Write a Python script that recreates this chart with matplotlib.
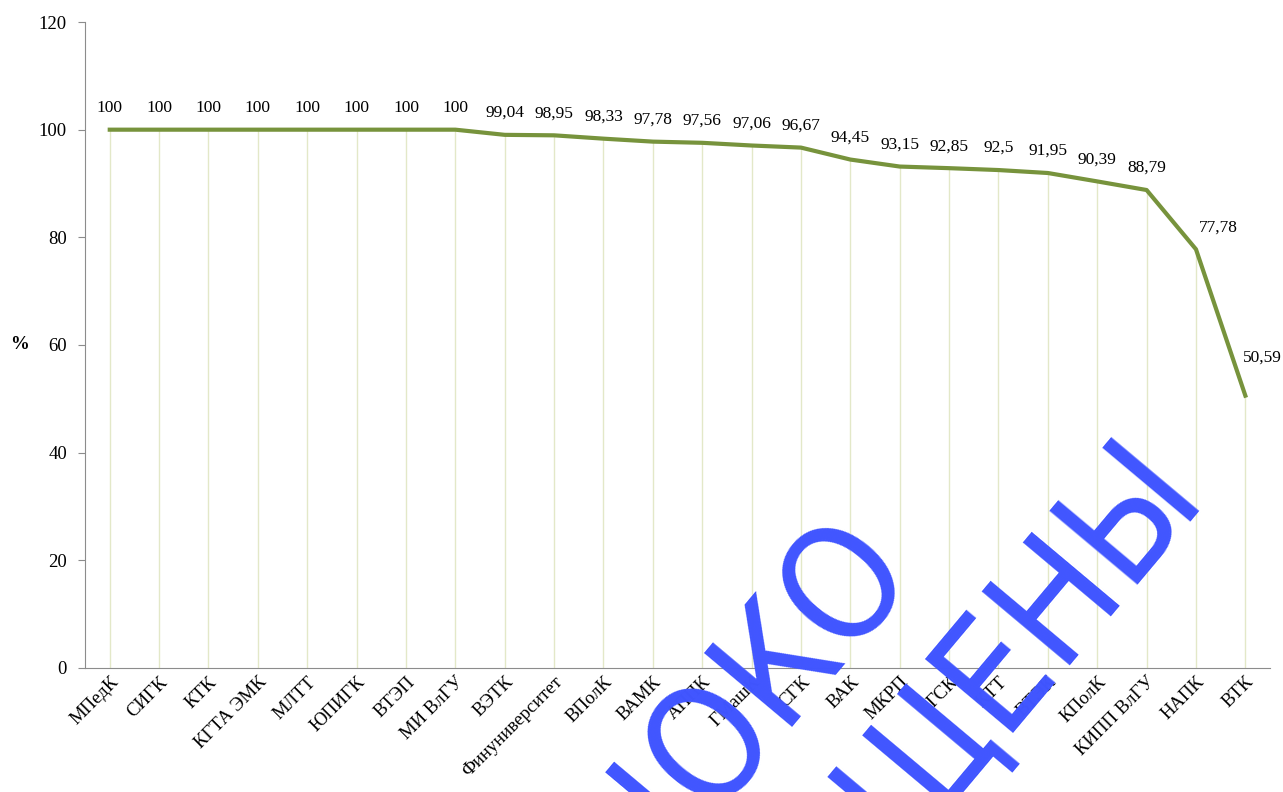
import matplotlib
matplotlib.use("Agg")
import matplotlib.pyplot as plt

# colleges and share (%)
colleges = [
    "МПедК", "СИГК", "КТК", "КГТА ЭМК", "МЛТТ", "ЮПИГК", "ВТЭП", "МИ ВлГУ",
    "ВЭТК", "Финуниверситет", "ВПолК", "ВАМК", "АППК", "ГМашК", "СГК", "ВАК",
    "МКРП", "ГСК", "КТТ", "ВТЭК", "КПолК", "КИПП ВлГУ", "НАПК", "ВТК",
]
values = [
    100, 100, 100, 100, 100, 100, 100, 100,
    99.04, 98.95, 98.33, 97.78, 97.56, 97.06, 96.67, 94.45,
    93.15, 92.85, 92.5, 91.95, 90.39, 88.79, 77.78, 50.59,
]
value_labels = [
    "100", "100", "100", "100", "100", "100", "100", "100",
    "99,04", "98,95", "98,33", "97,78", "97,56", "97,06", "96,67", "94,45",
    "93,15", "92,85", "92,5", "91,95", "90,39", "88,79", "77,78", "50,59",
]

plt.rcParams["font.family"] = ["Liberation Serif", "DejaVu Serif"]

fig = plt.figure(figsize=(12.83, 7.92), dpi=100)
ax = fig.add_axes([0.0663, 0.1566, 0.9236, 0.8156])

x = list(range(len(colleges)))

# drop lines from each point down to the axis
ax.vlines(x, 0, values, color="#e3e8c8", lw=1, zorder=1)
ax.plot(x, values, color="#77933c", lw=3, zorder=3, solid_joinstyle="round")

n = len(values)
for i, (v, lab) in enumerate(zip(values, value_labels)):
    dx, dy = 0, 22
    if i == n - 2:
        dx = 22
    if i == n - 1:
        dx, dy = 17, 38
    ax.annotate(lab, (i, v), xytext=(dx, dy), textcoords="offset pixels",
                ha="center", va="center", fontsize=12.5, color="black")

ax.set_xlim(-0.5, n - 0.5)
ax.set_ylim(0, 120)
ax.set_yticks(range(0, 121, 20))
ax.tick_params(axis="y", labelsize=13.5, length=5, color="#8c8c8c", pad=8)
ax.tick_params(axis="x", length=0, pad=4)
ax.set_xticks(x)
ax.set_xticklabels(colleges, rotation=45, ha="right", rotation_mode="anchor",
                   fontsize=13.5)

for s in ["top", "right"]:
    ax.spines[s].set_visible(False)
ax.spines["left"].set_color("#8c8c8c")
ax.spines["bottom"].set_color("#8c8c8c")

ax.set_ylabel("%", rotation=0, fontsize=13.5, fontweight="bold", va="center")
ax.yaxis.set_label_coords(-0.055, 0.5)

# watermark
wm = dict(color="#4055ff", fontsize=112, rotation=50, rotation_mode="anchor",
          ha="right", va="baseline", zorder=10, fontstretch="condensed",
          family=["DejaVu Sans"])
fig.text(0.716, 0.272, "© ЦОКО", **wm)
fig.text(0.942, 0.368, "ПРАВА ЗАЩИЩЕНЫ", **wm)

fig.savefig("out.png", dpi=100)
